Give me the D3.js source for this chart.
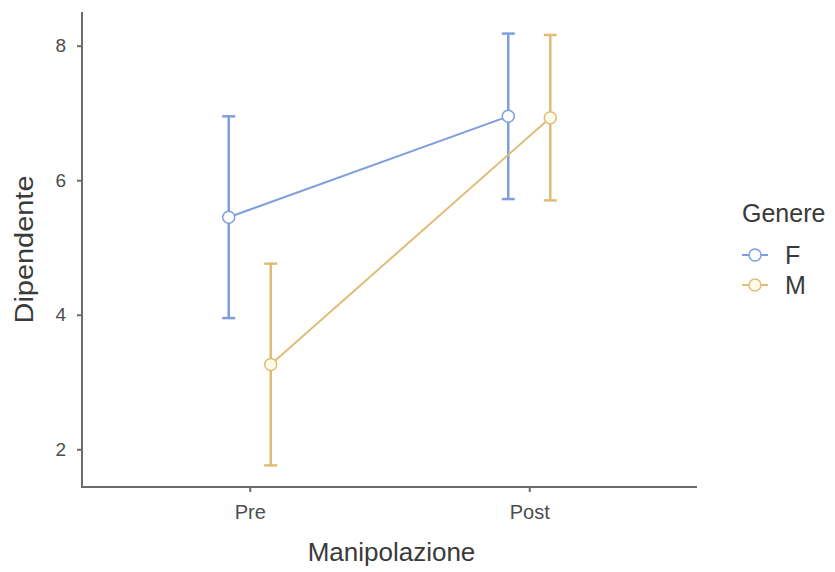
<!DOCTYPE html>
<html>
<head>
<meta charset="utf-8">
<script src="https://cdn.jsdelivr.net/npm/d3@7"></script>
<style>
  html, body { margin: 0; padding: 0; background: #fff; }
  svg { display: block; font-family: "Liberation Sans", Arial, sans-serif; }
</style>
</head>
<body>
<svg id="chart" width="835" height="572"></svg>
<script>
// Group means and confidence half-widths per level of Manipolazione
const conditions = ["Pre", "Post"];
const groups = ["F", "M"];
const meansF = [5.45, 6.95];
const meansM = [3.26, 6.93];
const errF = [1.50, 1.23];
const errM = [1.50, 1.23];
const yTicks = [2, 4, 6, 8];
const groupColors = ["#7f9fdc", "#dfbd76"];
const groupFills = ["#ffffff", "#fffbea"];

const svg = d3.select("#chart");
const plot = { left: 82, right: 697, top: 12, bottom: 487 };

const series = groups.map((g, gi) => ({
  key: g,
  color: groupColors[gi],
  fill: groupFills[gi],
  points: conditions.map((c, ci) => ({
    cond: c,
    mean: gi === 0 ? meansF[ci] : meansM[ci],
    err: gi === 0 ? errF[ci] : errM[ci]
  }))
}));

// Discrete x scale with 0.6 expansion on each side; groups dodged around each level
const x = d3.scalePoint().domain(conditions).range([plot.left, plot.right]).padding(0.6);
const dodge = d3.scalePoint().domain(groups).range([-21, 21]);

const lo = d3.min(series, s => d3.min(s.points, p => p.mean - p.err));
const hi = d3.max(series, s => d3.max(s.points, p => p.mean + p.err));
const pad = (hi - lo) * 0.05;
const y = d3.scaleLinear().domain([lo - pad, hi + pad]).range([plot.bottom, plot.top]);

// Axes
const axisColor = "#6b6b6b";
const yAxis = svg.append("g")
  .attr("transform", `translate(${plot.left},0)`)
  .call(d3.axisLeft(y).tickValues(yTicks).tickSize(5).tickPadding(11).tickFormat(d3.format("d")));
const xAxis = svg.append("g")
  .attr("transform", `translate(0,${plot.bottom})`)
  .call(d3.axisBottom(x).tickSize(5).tickPadding(13));

[yAxis, xAxis].forEach(a => {
  a.select(".domain").remove();
  a.selectAll(".tick line").attr("stroke", axisColor).attr("stroke-width", 2);
  a.selectAll(".tick text").attr("fill", "#4d4d4d")
    .attr("font-family", "Liberation Sans, Arial, sans-serif");
});
yAxis.selectAll(".tick text").attr("font-size", 19);
xAxis.selectAll(".tick text").attr("font-size", 20);

svg.append("line").attr("x1", plot.left).attr("x2", plot.left)
  .attr("y1", plot.top).attr("y2", plot.bottom + 1)
  .attr("stroke", axisColor).attr("stroke-width", 2);
svg.append("line").attr("x1", plot.left - 1).attr("x2", plot.right)
  .attr("y1", plot.bottom).attr("y2", plot.bottom)
  .attr("stroke", axisColor).attr("stroke-width", 2);

// Axis titles
svg.append("text")
  .attr("x", (plot.left + plot.right) / 2 + 2).attr("y", 561)
  .attr("text-anchor", "middle").attr("font-size", 26).attr("fill", "#3a3a3a")
  .text("Manipolazione");
svg.append("text")
  .attr("transform", `translate(33,${(plot.top + plot.bottom) / 2}) rotate(-90)`)
  .attr("text-anchor", "middle").attr("font-size", 26).attr("fill", "#3a3a3a")
  .attr("textLength", 148).attr("lengthAdjust", "spacingAndGlyphs")
  .text("Dipendente");

// Lines, error bars and points for each group
series.forEach(s => {
  const g = svg.append("g");
  const px = p => x(p.cond) + dodge(s.key);
  g.append("path")
    .attr("d", d3.line().x(px).y(p => y(p.mean))(s.points))
    .attr("fill", "none").attr("stroke", s.color).attr("stroke-width", 2);

  const eb = g.selectAll(".eb").data(s.points).join("g");
  eb.append("line")
    .attr("x1", px).attr("x2", px)
    .attr("y1", p => y(p.mean - p.err)).attr("y2", p => y(p.mean + p.err))
    .attr("stroke", s.color).attr("stroke-width", 2.5);
  [-1, 1].forEach(sign => {
    eb.append("line")
      .attr("x1", p => px(p) - 6.5).attr("x2", p => px(p) + 6.5)
      .attr("y1", p => y(p.mean + sign * p.err)).attr("y2", p => y(p.mean + sign * p.err))
      .attr("stroke", s.color).attr("stroke-width", 2.5);
  });

  g.selectAll("circle").data(s.points).join("circle")
    .attr("cx", px).attr("cy", p => y(p.mean)).attr("r", 6)
    .attr("fill", s.fill).attr("stroke", s.color).attr("stroke-width", 1.5);
});

// Legend
const legend = svg.append("g");
legend.append("text").attr("x", 742).attr("y", 221.5)
  .attr("font-size", 25).attr("fill", "#3a3a3a").text("Genere");
series.forEach((s, i) => {
  const cy = 255 + i * 30;
  legend.append("line").attr("x1", 742).attr("x2", 768).attr("y1", cy).attr("y2", cy)
    .attr("stroke", s.color).attr("stroke-width", 2);
  legend.append("circle").attr("cx", 755).attr("cy", cy).attr("r", 6)
    .attr("fill", s.fill).attr("stroke", s.color).attr("stroke-width", 1.5);
  legend.append("text").attr("x", 785).attr("y", cy + 9)
    .attr("font-size", 25).attr("fill", "#3a3a3a").text(s.key);
});
</script>
</body>
</html>
